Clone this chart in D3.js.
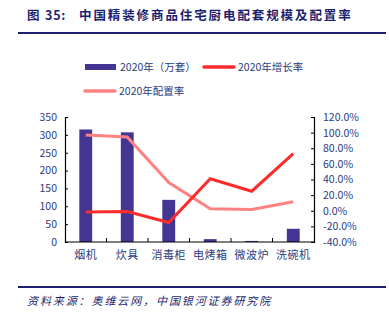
<!DOCTYPE html>
<html lang="zh">
<head>
<meta charset="utf-8">
<script src="https://d3js.org/d3.v7.min.js"></script>
<style>
  body { margin: 0; background: #fff; }
  svg text { font-family: "Noto Sans CJK SC", "Noto Sans", sans-serif; }
</style>
</head>
<body>
<div id="chart"></div>
<script>
// 厨电品类与2020年数据
const categories = ['烟机', '炊具', '消毒柜', '电烤箱', '微波炉', '洗碗机'];
const scaleValues = [315, 307, 118, 8, 3, 37];          // 万套
const growthRate = [-1.5, -1, -15, 41, 25, 73];          // %
const configRate = [97, 94.5, 36, 2.5, 1.5, 11.5];       // %
const leftTicks = [0, 50, 100, 150, 200, 250, 300, 350];
const rightTicks = [-40, -20, 0, 20, 40, 60, 80, 100, 120];

const W = 389, H = 321;
const navy = '#1c1f6e', txt = '#2a3b7c';
const barColor = '#433592', redColor = '#ff2b2b', pinkColor = '#ff8282';

const svg = d3.select('#chart').append('svg').attr('width', W).attr('height', H);

// 标题
const title = svg.append('text').attr('y', 20)
  .attr('fill', navy).attr('font-size', 12.5).attr('font-weight', 'bold');
title.append('tspan').attr('x', 27).text('图');
title.append('tspan').attr('x', 45).attr('letter-spacing', 0.8).text('35:');
title.append('tspan').attr('x', 79).attr('letter-spacing', 1.9).text('中国精装修商品住宅厨电配套规模及配置率');
svg.append('line').attr('x1', 18).attr('x2', 386).attr('y1', 33).attr('y2', 33)
  .attr('stroke', navy).attr('stroke-width', 2);

const m = { left: 65, right: 75, top: 117, bottom: 79 };
const iw = W - m.left - m.right, ih = H - m.top - m.bottom;
const g = svg.append('g').attr('transform', `translate(${m.left},${m.top})`);

const x = d3.scaleBand().domain(categories).range([0, iw]);
const yL = d3.scaleLinear().domain([0, 350]).range([ih, 0]);
const yR = d3.scaleLinear().domain([-40, 120]).range([ih, 0]);

// 柱
g.selectAll('rect.bar').data(categories).join('rect')
  .attr('class', 'bar')
  .attr('x', d => x(d) + x.bandwidth() * 0.345)
  .attr('width', x.bandwidth() * 0.31)
  .attr('y', (d, i) => yL(scaleValues[i]))
  .attr('height', (d, i) => ih - yL(scaleValues[i]))
  .attr('fill', barColor);

const line = d3.line()
  .x((d, i) => x(categories[i]) + x.bandwidth() / 2)
  .y(d => yR(d));

g.append('path').datum(configRate).attr('d', line)
  .attr('fill', 'none').attr('stroke', pinkColor).attr('stroke-width', 3);
g.append('path').datum(growthRate).attr('d', line)
  .attr('fill', 'none').attr('stroke', redColor).attr('stroke-width', 3);

// 坐标轴
const axL = g.append('g').call(d3.axisLeft(yL).tickValues(leftTicks).tickSize(-3).tickPadding(8));
const axR = g.append('g').attr('transform', `translate(${iw},0)`)
  .call(d3.axisRight(yR).tickValues(rightTicks).tickSize(-3).tickPadding(9)
    .tickFormat(d => d.toFixed(1) + '%'));
const axB = g.append('g').attr('transform', `translate(0,${ih})`)
  .call(d3.axisBottom(x).tickSize(0).tickPadding(9));
// 类别分隔刻度
g.selectAll('line.sep').data(categories.slice(1)).join('line')
  .attr('class', 'sep')
  .attr('x1', d => x(d)).attr('x2', d => x(d))
  .attr('y1', ih).attr('y2', ih - 4)
  .attr('stroke', '#000');

[axL, axR, axB].forEach(a => {
  a.select('.domain').attr('stroke', '#000').attr('stroke-width', 1.2);
  a.selectAll('.tick line').attr('stroke', '#000');
  a.selectAll('.tick text').attr('fill', txt).attr('font-size', 10.5);
});
axB.select('.domain').attr('d', `M0,0H${iw}`);
axB.selectAll('.tick text').attr('font-size', 11).attr('letter-spacing', 0.5);

// 图例
const legend = [
  { label: '2020年（万套）', color: barColor, x: 85, y: 67, type: 'bar' },
  { label: '2020年增长率', color: redColor, x: 203, y: 67, type: 'line' },
  { label: '2020年配置率', color: pinkColor, x: 84, y: 91, type: 'line' }
];
const lg = svg.append('g').selectAll('g').data(legend).join('g')
  .attr('transform', d => `translate(${d.x},${d.y})`);
lg.each(function (d) {
  const s = d3.select(this);
  if (d.type === 'bar') {
    s.append('rect').attr('x', 0).attr('y', -3).attr('width', 31).attr('height', 6).attr('fill', d.color);
  } else {
    s.append('line').attr('x1', 1).attr('x2', 31).attr('y1', 0).attr('y2', 0)
      .attr('stroke', d.color).attr('stroke-width', 3.5).attr('stroke-linecap', 'round');
  }
  s.append('text').attr('x', 35).attr('y', 4).attr('fill', txt).attr('font-size', 10.5).text(d.label);
});

// 资料来源
svg.append('line').attr('x1', 18).attr('x2', 386).attr('y1', 287).attr('y2', 287)
  .attr('stroke', navy).attr('stroke-width', 2);
svg.append('text').attr('x', 27).attr('y', 305)
  .attr('fill', navy).attr('font-size', 11).attr('font-style', 'italic')
  .attr('letter-spacing', 1.9)
  .text('资料来源：奥维云网，中国银河证券研究院');
</script>
</body>
</html>
